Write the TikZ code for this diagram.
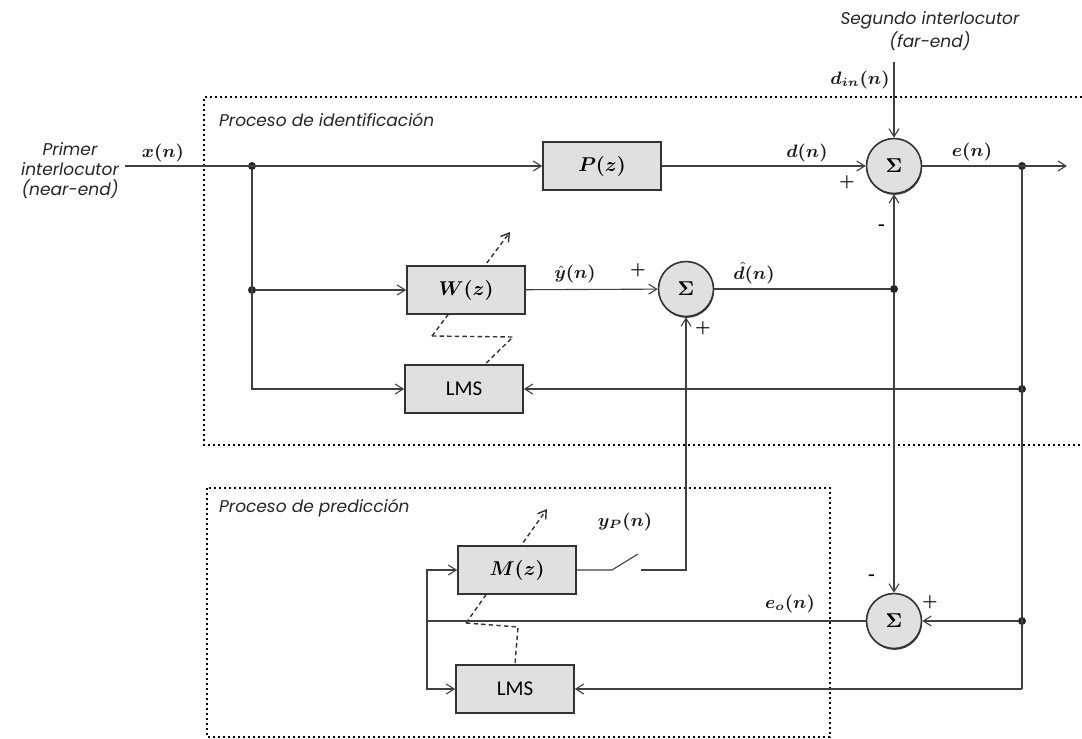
\documentclass[tikz,border=0pt]{standalone}
\usepackage{amsmath,amssymb,bm}
\usepackage{fontspec}
\newfontfamily\lblfont{Poppins}
\newfontfamily\lmsfont{Carlito}
\usepackage{tikz}
\usetikzlibrary{arrows.meta, positioning, calc, shadows, backgrounds}

\tikzset{
  blk/.style={draw=black!80, line width=0.8pt, fill=black!12, minimum width=59pt,
              minimum height=24pt, inner sep=0pt, font=\fontsize{10}{12}\selectfont,
              drop shadow={shadow xshift=0.5pt, shadow yshift=-0.7pt, fill=black!75, opacity=1}},
  lmsblk/.style={blk, font=\lmsfont\fontsize{10.5}{12}\selectfont},
  summ/.style={circle, draw=black!80, line width=0.8pt, fill=black!12, minimum size=27.5pt,
               inner sep=0pt, font=\fontsize{10}{12}\selectfont,
               drop shadow={shadow xshift=0.3pt, shadow yshift=-0.7pt, fill=black!75, opacity=1}},
  lbl/.style={font=\lblfont\itshape\fontsize{8.5}{10}\selectfont, text=black!85, align=center},
  sig/.style={font=\fontsize{9}{11}\selectfont, text=black!90, inner sep=1pt},
  sgn/.style={font=\bfseries\fontsize{8.5}{9}\selectfont, inner sep=0pt},
  jdot/.style={circle, fill=black!85, minimum size=4pt, inner sep=0pt},
  wire/.style={line width=0.55pt, draw=black!75},
  adapt/.style={line width=0.7pt, draw=black!80, dash pattern=on 2.2pt off 1.6pt},
  procbox/.style={line width=1.3pt, dash pattern=on 1pt off 1.5pt}
}

\begin{document}
\begin{tikzpicture}[x=0.5pt, y=-0.5pt, >={Straight Barb[length=4pt,width=5pt]}]
  \useasboundingbox (0,0) rectangle (1082,739);

  % Process frames
  \draw[procbox] (1082,97) -- (204,97) -- (204,445) -- (1082,445);
  \draw[procbox] (207,488) rectangle (830,737);
  \node[lbl, anchor=west] (tid) at (212,120) {Proceso de identificación};
  \node[lbl, anchor=west] (tpr) at (212,508) {Proceso de predicción};

  % Speakers
  \node[lbl] (near) at (70,171) {Primer\\interlocutor\\(near-end)};
  \node[lbl] (far) at (930,31) {Segundo interlocutor\\(far-end)};

  % Blocks
  \node[blk] (P) at (602,166) {$\bm{P(z)}$};
  \node[blk] (W) at (466,290) {$\bm{W(z)}$};
  \node[lmsblk] (L1) at (464,389) {LMS};
  \node[blk] (M) at (517,570) {$\bm{M(z)}$};
  \node[lmsblk] (L2) at (515,689) {LMS};
  \node[summ] (S1) at (894,166) {$\bm{\Sigma}$};
  \node[summ] (S2) at (686,289) {$\bm{\Sigma}$};
  \node[summ] (S3) at (894,621) {$\bm{\Sigma}$};

  % Adaptation paths (behind the blocks)
  \begin{scope}[on background layer]
    \coordinate (wa) at (432,336);
    \coordinate (wb) at (510,232);
    \coordinate (wc) at (513,337);
    \draw[adapt, ->] (wa) -- (wb);
    \draw[adapt] (wa) -- (wc) -- ([xshift=10.5pt]L1.north);
    \coordinate (ma) at (466,623);
    \coordinate (mb) at (547,509);
    \coordinate (mc) at (518,627);
    \draw[adapt, ->] (ma) -- (mb);
    \draw[adapt] (ma) -- (mc) -- (L2.north);
  \end{scope}

  % Junctions
  \node[jdot] (j1) at (252,166) {};
  \node[jdot] (j2) at (252,290) {};
  \node[jdot] (j3) at (1022,166) {};
  \node[jdot] (j4) at (894,289) {};
  \node[jdot] (j5) at (1022,389) {};
  \node[jdot] (j6) at (1022,621) {};
  \coordinate (xin) at (125,166);
  \coordinate (din) at (894,62);
  \coordinate (eout) at (1067,166);
  \coordinate (jb) at (1022,689);
  \coordinate (k) at (427,621);

  % Identification path
  \draw[wire, ->] (xin) -- (P);
  \draw[wire, ->] (j2) -- (W);
  \draw[wire, ->] (j1) |- (L1);
  \draw[wire, ->] (P) -- (S1);
  \draw[wire, ->] (din) -- (S1);
  \draw[wire, ->] (S1) -- (eout);
  \draw[wire, ->] (W) -- (S2);
  \draw[wire] (S2) -- (j4);
  \draw[wire, ->] (j4) -- (S1);
  \draw[wire, ->] (j4) -- (S3);

  % Error feedback
  \draw[wire] (j3) -- (jb);
  \draw[wire, ->] (j5) -- (L1);
  \draw[wire, ->] (j6) -- (S3);
  \draw[wire, ->] (jb) -- (L2);

  % Prediction path
  \draw[wire] (S3) -- (k);
  \draw[wire, ->] (k) |- (M);
  \draw[wire, ->] (k) |- (L2);
  \coordinate (sw1) at (612,570);
  \coordinate (sw2) at (638,554);
  \coordinate (sw3) at (641,570);
  \draw[wire] (M) -- (sw1) -- (sw2);
  \draw[wire, ->] (sw3) -| (S2);

  % Signal labels
  \node[sig] (lx) at (163,153) {$\bm{x(n)}$};
  \node[sig] (ld) at (807,153) {$\bm{d(n)}$};
  \node[sig] (le) at (972,152) {$\bm{e(n)}$};
  \node[sig] (ldin) at (860,80) {$\bm{d_{in}(n)}$};
  \node[sig] (lyh) at (575,274) {$\bm{\hat{y}(n)}$};
  \node[sig] (ldh) at (754,273) {$\bm{\hat{d}(n)}$};
  \node[sig] (lyp) at (625,522) {$\bm{y_P(n)}$};
  \node[sig] (leo) at (790,604) {$\bm{e_o(n)}$};

  % Signs
  \node[sgn] (p1) at (847,182) {+};
  \node[sgn] (m1) at (882,227) {-};
  \node[sgn] (p2) at (638,270) {+};
  \node[sgn] (p3) at (703,328) {+};
  \node[sgn] (m3) at (872,577) {-};
  \node[sgn] (p4) at (930,602) {+};
\end{tikzpicture}
\end{document}
